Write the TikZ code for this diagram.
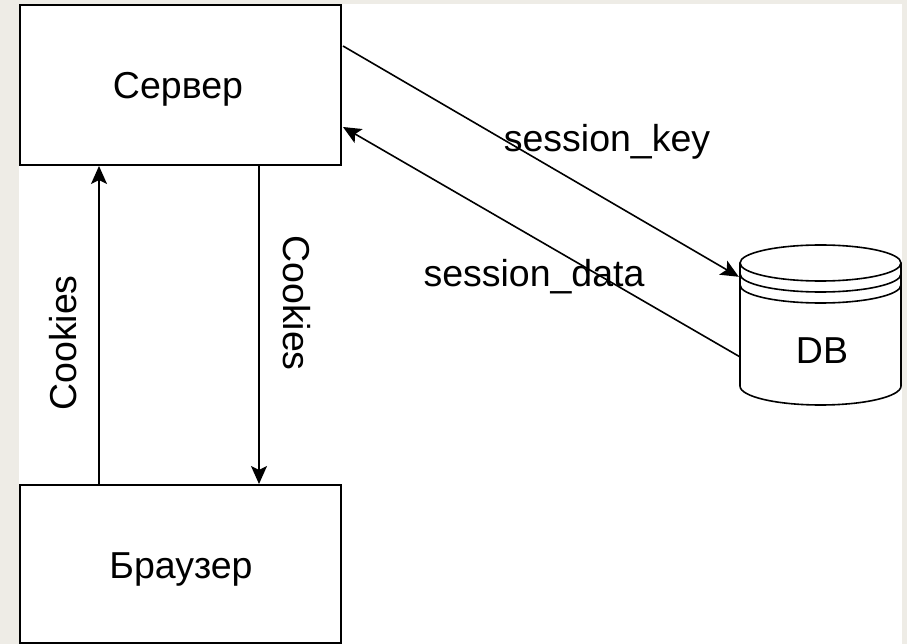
\documentclass[tikz,border=0pt]{standalone}
\usepackage{fontspec}
\setmainfont{Liberation Sans}
\usetikzlibrary{arrows.meta,calc}
\definecolor{bggray}{RGB}{238,236,230}
\begin{document}
\begin{tikzpicture}[x=1pt,y=-1pt,
  box/.style={draw=black,line width=2pt,fill=white,inner sep=0pt},
  conn/.style={draw=black,line width=1.6pt,-{Stealth[length=18pt,width=16pt,inset=4pt]}},
  txt/.style={font=\fontsize{37.5}{44}\selectfont,inner sep=0pt,anchor=base},
  rtxt/.style={font=\fontsize{37.5}{44}\selectfont,inner sep=0pt}]
\useasboundingbox (0,0) rectangle (907,644);
\fill[bggray] (0,0) rectangle (907,644);
\fill[white] (19,4) rectangle (902,644);
% boxes
\node[box,minimum width=321pt,minimum height=160pt] (srv) at (180.5,85) {};
\node[box,minimum width=321pt,minimum height=158pt] (br) at (180.5,564) {};
\node[txt] (srvt) at (178,99) {Сервер};
\node[txt] (brt) at (181,578) {Браузер};
% DB cylinder
\node[minimum width=161pt,minimum height=160pt,inner sep=0pt] (db) at (820.5,325) {};
\begin{scope}[line width=1.6pt]
\fill[white] (740,263) -- (740,386) arc[start angle=180,end angle=0,x radius=80.5,y radius=19] -- (901,263) arc[start angle=0,end angle=180,x radius=80.5,y radius=18];
\draw (820.5,263) ellipse[x radius=80.5,y radius=18];
\draw (740,274) arc[start angle=180,end angle=0,x radius=80.5,y radius=18];
\draw (740,285) arc[start angle=180,end angle=0,x radius=80.5,y radius=18];
\draw (740,263) -- (740,386) arc[start angle=180,end angle=0,x radius=80.5,y radius=19] -- (901,263);
\end{scope}
\node[txt] (dbt) at (822,363) {DB};
% connectors
\draw[conn] (br.north west) ++(80,0) coordinate (a1) -- (a1 |- srv.south);
\draw[conn] (srv.south west) ++(240,0) coordinate (a2) -- (a2 |- br.north);
\draw[conn] ($(srv.north east)+(1,42)$) -- ($(db.north west)+(-1,32)$);
\draw[conn] ($(db.north west)+(0,112)$) -- ($(srv.north east)+(1,123)$);
% labels
\node[rtxt,rotate=90] (c1) at (63,343) {Cookies};
\node[rtxt,rotate=-90] (c2) at (297,303) {Cookies};
\node[txt] (sk) at (607,152) {session\_key};
\node[txt] (sd) at (534,287) {session\_data};
\end{tikzpicture}
\end{document}
